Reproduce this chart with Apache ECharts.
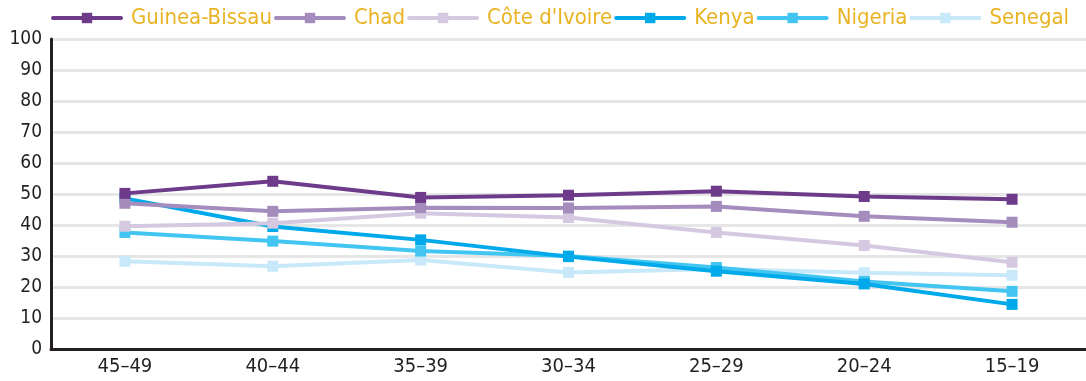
<!DOCTYPE html>
<html>
<head>
<meta charset="utf-8">
<style>
  html, body { margin: 0; padding: 0; background: #ffffff; }
  #chart { width: 1086px; height: 381px; }
</style>
<script src="https://cdn.jsdelivr.net/npm/echarts@6/dist/echarts.min.js"></script>
</head>
<body>
<div id="chart"></div>
<script>
// Age groups, oldest to youngest
const ageGroups = ['45–49', '40–44', '35–39', '30–34', '25–29', '20–24', '15–19'];

// Percentage values per country, one per age group
const guineaBissau = [50.2, 54.1, 48.9, 49.6, 50.9, 49.2, 48.3];
const chad         = [47.0, 44.4, 45.6, 45.5, 46.0, 42.8, 40.9];
const coteDIvoire  = [39.6, 40.6, 43.8, 42.4, 37.6, 33.4, 28.0];
const kenya        = [48.6, 39.5, 35.2, 29.8, 25.1, 21.0, 14.4];
const nigeria      = [37.6, 34.8, 31.6, 30.0, 26.3, 21.8, 18.6];
const senegal      = [28.3, 26.7, 28.7, 24.7, 25.8, 24.6, 23.8];

const yTicks = { min: 0, max: 100, step: 10 };

const FONT = "'DejaVu Sans Condensed', 'Liberation Sans Narrow', sans-serif";

const seriesDefs = [
  { name: 'Guinea-Bissau', data: guineaBissau, color: '#6d3b8a', z: 8 },
  { name: 'Chad',          data: chad,         color: '#a48cbd', z: 7 },
  { name: "Côte d'Ivoire", data: coteDIvoire,  color: '#d5c9e1', z: 6 },
  { name: 'Kenya',         data: kenya,        color: '#00a9e9', z: 5 },
  { name: 'Nigeria',       data: nigeria,      color: '#42c6f1', z: 4 },
  { name: 'Senegal',       data: senegal,      color: '#c8e9f9', z: 3 }
];

const chart = echarts.init(document.getElementById('chart'), null, { renderer: 'canvas' });

chart.setOption({
  animation: false,
  backgroundColor: '#ffffff',
  textStyle: { fontFamily: FONT },
  legend: {
    top: 7,
    left: 51,
    padding: 0,
    itemWidth: 68,
    itemHeight: 13,
    itemGap: 2,
    lineStyle: { width: 4, cap: 'round' },
    textStyle: {
      fontFamily: FONT,
      fontSize: 22,
      color: '#e9b323',
      padding: [0, 0, 0, 5]
    },
    data: seriesDefs.map(s => s.name)
  },
  grid: {
    left: 51,
    right: -9,
    top: 39,
    bottom: 32,
    containLabel: false
  },
  xAxis: {
    type: 'category',
    data: ageGroups,
    boundaryGap: true,
    axisLine: { show: true, lineStyle: { color: '#231f20', width: 3 } },
    axisTick: { show: false },
    axisLabel: {
      fontFamily: FONT,
      fontSize: 20,
      color: '#231f20',
      margin: 8
    },
    splitLine: { show: false }
  },
  yAxis: {
    type: 'value',
    min: yTicks.min,
    max: yTicks.max,
    interval: yTicks.step,
    axisLine: { show: true, lineStyle: { color: '#231f20', width: 3 } },
    axisTick: { show: false },
    axisLabel: {
      fontFamily: FONT,
      fontSize: 19,
      color: '#231f20',
      margin: 9
    },
    splitLine: { show: true, lineStyle: { color: '#e6e6e6', width: 3 } }
  },
  series: seriesDefs.map(s => ({
    name: s.name,
    type: 'line',
    data: s.data,
    z: s.z,
    symbol: 'rect',
    symbolSize: 11,
    showSymbol: true,
    lineStyle: { color: s.color, width: 4 },
    itemStyle: { color: s.color },
    emphasis: { disabled: true }
  }))
});
</script>
</body>
</html>
